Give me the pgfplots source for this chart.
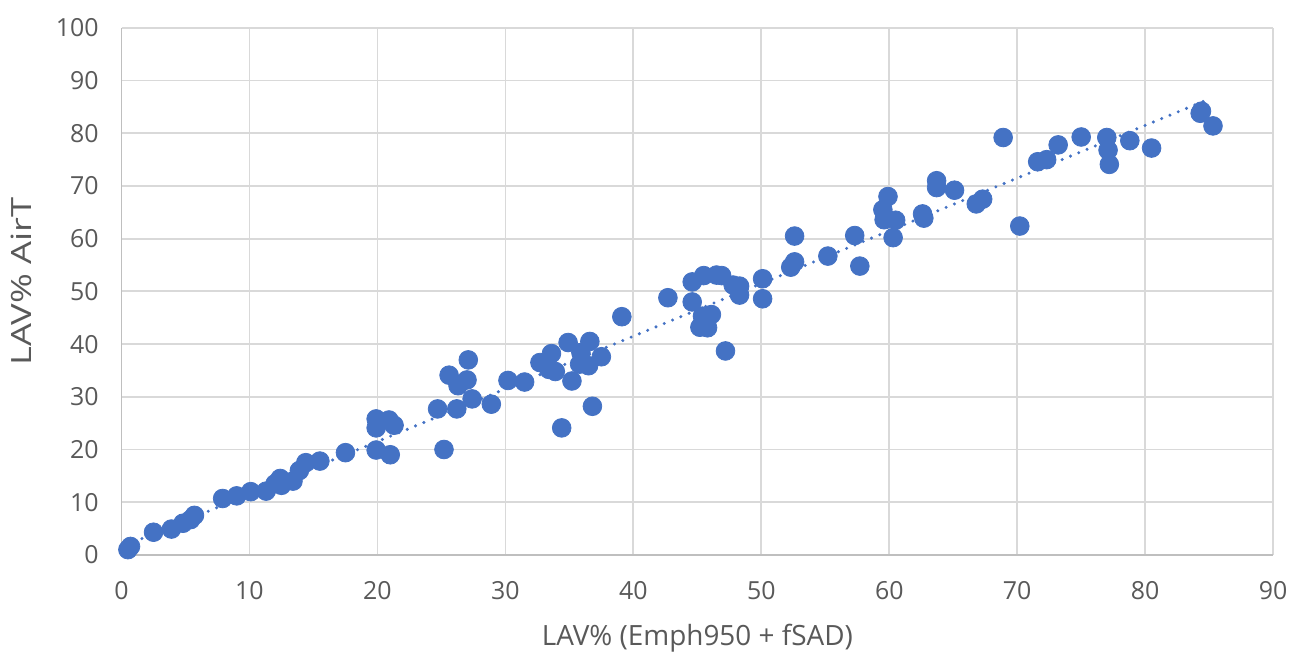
\documentclass[border=0pt]{standalone}
\usepackage{fontspec}
\setmainfont{Open Sans}
\usepackage{graphicx}
\usepackage{pgfplots}
\pgfplotsset{compat=1.18}
\usetikzlibrary{calc}
\definecolor{dotblue}{HTML}{4472C4}
\definecolor{gridgray}{HTML}{D9D9D9}
\definecolor{axgray}{HTML}{BFBFBF}
\definecolor{txtgray}{HTML}{595959}
\begin{document}
\begin{tikzpicture}[x=1pt,y=1pt]
\begin{axis}[
  scale only axis,
  width=578pt, height=264.5pt,
  xmin=0, xmax=90, ymin=0, ymax=100,
  xtick={0,10,...,90}, ytick={0,10,...,100},
  grid=major,
  major grid style={gridgray, line width=0.9pt},
  axis line style={draw=none},
  tick style={draw=none},
  /pgf/number format/assume math mode=true,
  ticklabel style={font=\fontsize{12.5}{14}\selectfont, text=txtgray},
  xticklabel style={yshift=-10pt},
  yticklabel style={xshift=-8pt},
  xlabel={LAV\% (Emph950 + fSAD)},
  ylabel={\scalebox{1.3}[1]{LAV\% AirT}},
  label style={font=\fontsize{14}{16}\selectfont, text=txtgray},
  xlabel style={yshift=-5pt},
  ylabel style={yshift=5pt, xshift=5pt},
  clip=false,
]
\draw[axgray, line width=0.9pt] (rel axis cs:0,1) -- (rel axis cs:0,0) -- (rel axis cs:1,0);
\addplot[only marks, mark=*, mark size=4.7pt, mark options={draw=dotblue, fill=dotblue}] coordinates {
(0.5,1.0) (0.7,1.6) (2.5,4.3) (3.9,4.9) (4.8,6.0) (5.4,6.7) (5.7,7.5)
(7.9,10.7) (9.0,11.2) (10.1,12.0) (11.3,12.1) (12.0,13.5) (12.4,14.5)
(12.5,13.2) (13.4,14.0) (13.9,16.0) (14.4,17.5) (15.5,17.8) (17.5,19.4)
(19.9,19.9) (19.9,25.8) (19.9,24.1) (20.9,25.6) (21.3,24.6) (21.0,19.0)
(24.7,27.7) (25.2,20.0) (25.6,34.1) (26.2,27.7) (26.3,32.1) (27.0,33.2)
(27.1,37.0) (27.4,29.6) (28.9,28.6) (30.2,33.1) (31.5,32.8) (32.7,36.5)
(33.4,35.2) (33.6,38.2) (33.9,34.8) (34.4,24.1) (34.9,40.3) (35.2,33.0)
(35.8,36.2) (35.9,38.4) (36.5,35.9) (36.6,40.5) (36.8,28.2) (37.5,37.6)
(39.1,45.2) (42.7,48.8) (44.6,51.8) (44.6,48.0) (45.2,43.2) (45.4,45.3)
(45.5,53.0) (45.8,43.1) (46.1,45.6) (46.5,53.1) (46.9,53.0) (47.2,38.7)
(47.8,51.2) (48.3,49.3) (48.3,51.0) (50.1,52.4) (50.1,48.6) (52.3,54.6)
(52.6,60.5) (52.6,55.6) (55.2,56.7) (57.3,60.6) (57.7,54.8) (59.5,65.5)
(59.6,63.6) (59.9,68.0) (60.3,60.2) (60.5,63.5) (62.6,64.7) (62.7,63.9)
(63.7,71.0) (63.7,69.7) (65.1,69.2) (66.8,66.6) (67.3,67.5) (68.9,79.2)
(70.2,62.4) (71.6,74.6) (72.3,75.0) (73.2,77.8) (75.0,79.3) (77.0,79.2)
(77.1,76.8) (77.2,74.1) (78.8,78.6) (80.5,77.2) (84.3,83.8) (84.4,84.2)
(85.3,81.4)
};
\addplot[dotblue, line width=1.7pt, dash pattern=on 0pt off 4.5pt, line cap=round] coordinates {(0.3,1.8) (84.9,86.4)};
\coordinate (O) at (rel axis cs:0,0);
\end{axis}
\path[use as bounding box] ($(O)+(-61pt,-47pt)$) rectangle ++(647pt,325.5pt);
\end{tikzpicture}
\end{document}
